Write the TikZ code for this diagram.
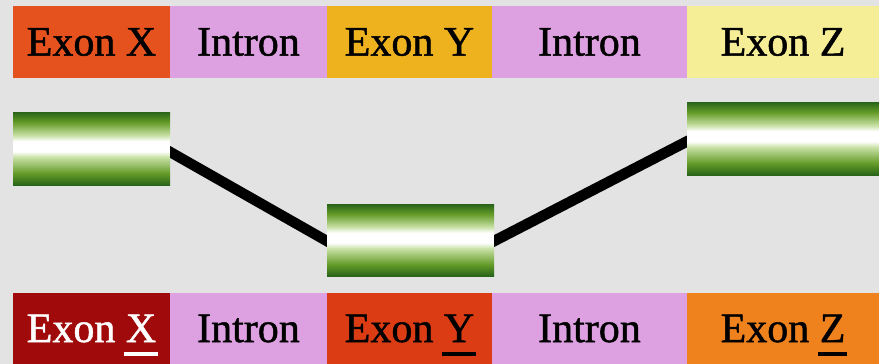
\documentclass[tikz,border=0pt]{standalone}
\usepackage{fontspec}
\setmainfont[FakeBold=1.2]{Liberation Serif}
\usetikzlibrary{calc}
\definecolor{bgc}{HTML}{E3E3E3}
\definecolor{exXtop}{HTML}{E6521E}
\definecolor{intronc}{HTML}{DDA0E0}
\definecolor{exYtop}{HTML}{EEB21E}
\definecolor{exZtop}{HTML}{F5EE96}
\definecolor{exXbot}{HTML}{A00A0A}
\definecolor{exYbot}{HTML}{DC3C14}
\definecolor{exZbot}{HTML}{F0821E}
\definecolor{dkgreen}{RGB}{40,100,25}
\definecolor{mdgreen}{RGB}{100,155,40}
\definecolor{ltgreen}{RGB}{200,225,165}
\pgfdeclareverticalshading{cylshade}{100bp}{%
  color(0bp)=(dkgreen); color(25bp)=(dkgreen); color(33bp)=(mdgreen);
  color(44bp)=(ltgreen); color(48bp)=(white); color(55bp)=(white);
  color(59bp)=(ltgreen); color(68bp)=(mdgreen); color(75bp)=(dkgreen);
  color(100bp)=(dkgreen)}
\newcommand{\myul}[1]{\setbox0=\hbox{#1}\rlap{\kern-2pt\smash{\rule[-14pt]{\dimexpr\wd0+4pt\relax}{4.5pt}}}\box0}
\tikzset{
  bar/.style={rectangle, inner sep=0pt, draw=none, text=black,
    font=\fontsize{42}{42}\selectfont},
  cyl/.style={rectangle, inner sep=0pt, draw=none, shading=cylshade},
  link/.style={fill=black, draw=none}
}
\begin{document}
\begin{tikzpicture}[x=1pt,y=-1pt]
\fill[bgc] (0,0) rectangle (879,364);
\useasboundingbox (0,0) rectangle (879,364);
% top row
\node[bar, fill=exXtop, minimum width=157pt, minimum height=72pt] (tx) at (91.5,42) {Exon X};
\node[bar, fill=intronc, minimum width=157pt, minimum height=72pt] (ti1) at (248.5,42) {Intron};
\node[bar, fill=exYtop, minimum width=165pt, minimum height=72pt] (ty) at (409.5,42) {Exon Y};
\node[bar, fill=intronc, minimum width=195pt, minimum height=72pt] (ti2) at (589.5,42) {Intron};
\node[bar, fill=exZtop, minimum width=192pt, minimum height=72pt] (tz) at (783,42) {Exon Z};
% bottom row
\node[bar, fill=exXbot, text=white, minimum width=157pt, minimum height=71pt] (bx) at (91.5,328.5) {Exon \myul{X}};
\node[bar, fill=intronc, minimum width=157pt, minimum height=71pt] (bi1) at (248.5,328.5) {Intron};
\node[bar, fill=exYbot, minimum width=165pt, minimum height=71pt] (by) at (409.5,328.5) {Exon \myul{Y}};
\node[bar, fill=intronc, minimum width=195pt, minimum height=71pt] (bi2) at (589.5,328.5) {Intron};
\node[bar, fill=exZbot, minimum width=192pt, minimum height=71pt] (bz) at (783,328.5) {Exon \myul{Z}};
% cylinders
\node[cyl, minimum width=157pt, minimum height=73pt] (cx) at (91.5,148.5) {};
\node[cyl, minimum width=167pt, minimum height=72pt] (cy) at (410.5,240) {};
\node[cyl, minimum width=192pt, minimum height=73pt] (cz) at (783,138.5) {};
% connecting introns (spliced out)
\fill[link] ($(cx.east)+(0,-2.5)$) -- ($(cx.east)+(0,9.5)$) -- ($(cy.west)+(0,7)$) -- ($(cy.west)+(0,-5)$) -- cycle;
\fill[link] ($(cy.east)+(0,-5)$) -- ($(cy.east)+(0,7)$) -- ($(cz.west)+(0,9)$) -- ($(cz.west)+(0,-3)$) -- cycle;
\end{tikzpicture}
\end{document}
